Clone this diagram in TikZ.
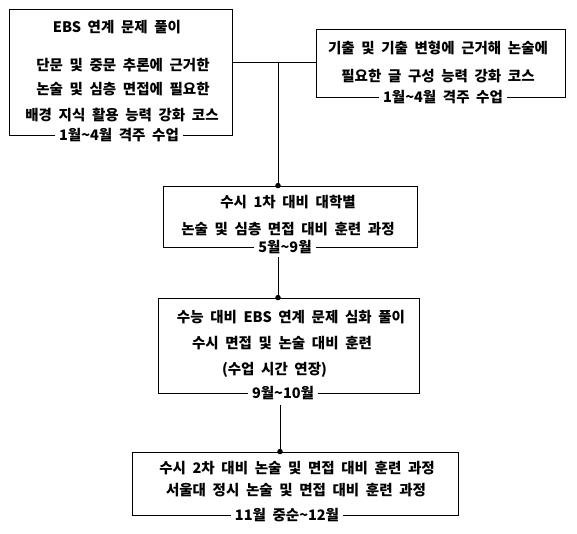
\documentclass[tikz,border=0pt]{standalone}
\usepackage{fontspec}
\setmainfont{Noto Sans CJK KR}[WordSpace=2.0]
\begin{document}
\begin{tikzpicture}[x=1pt,y=-1pt,
  box/.style={draw=black,line width=0.9pt,rectangle,inner sep=0pt},
  txt/.style={inner sep=0pt,font=\fontsize{14.5}{15}\selectfont\bfseries},
  datelbl/.style={txt,fill=white,inner xsep=4pt,inner ysep=1.5pt},
  conn/.style={draw=black,line width=0.9pt},
  dot/.style={circle,fill=black,inner sep=0pt,minimum size=5.5pt}]
\useasboundingbox (0,0) rectangle (577,534);
% boxes
\node[box,minimum width=223pt,minimum height=126pt] (b1) at (120.5,72) {};
\node[box,minimum width=249pt,minimum height=68pt] (b2) at (440.5,63) {};
\node[box,minimum width=254pt,minimum height=61pt] (b3) at (290,216.5) {};
\node[box,minimum width=261pt,minimum height=95pt] (b4) at (288.5,345.5) {};
\node[box,minimum width=326pt,minimum height=63pt] (b5) at (295,483.5) {};
% box 1 text
\node[txt] (t1a) at (117,27) {EBS 연계 문제 풀이};
\node[txt] (t1b) at (123,65) {단문 및 중문 추론에 근거한};
\node[txt] (t1c) at (123,89) {논술 및 심층 면접에 필요한};
\node[txt] (t1d) at (122,115) {배경 지식 활용 능력 강화 코스};
\node[datelbl] (d1) at (119,135) {1월\textasciitilde4월 격주 수업};
% box 2 text
\node[txt] (t2a) at (438,48) {기출 및 기출 변형에 근거해 논술에};
\node[txt] (t2b) at (438,76) {필요한 글 구성 능력 강화 코스};
\node[datelbl] (d2) at (443,97) {1월\textasciitilde4월 격주 수업};
% box 3 text
\node[txt] (t3a) at (288,202) {수시 1차 대비 대학별};
\node[txt] (t3b) at (288,229) {논술 및 심층 면접 대비 훈련 과정};
\node[datelbl] (d3) at (285,247) {5월\textasciitilde9월};
% box 4 text
\node[txt] (t4a) at (291,317) {수능 대비 EBS 연계 문제 심화 풀이};
\node[txt] (t4b) at (282,343) {수시 면접 및 논술 대비 훈련};
\node[txt] (t4c) at (274.5,370) {(수업 시간 연장)};
\node[datelbl] (d4) at (283,393) {9월\textasciitilde10월};
% box 5 text
\node[txt] (t5a) at (297,468) {수시 2차 대비 논술 및 면접 대비 훈련 과정};
\node[txt] (t5b) at (296,490) {서울대 정시 논술 및 면접 대비 훈련 과정};
\node[datelbl] (d5) at (287,515) {11월 중순\textasciitilde12월};
% connectors
\coordinate (j) at (278,62);
\draw[conn] (b1.east |- j) -- (b2.west |- j);
\draw[conn] (j) -- (b3.north -| j);
\node[dot] (p3) at (b3.north -| j) {};
\draw[conn] (j |- d3.south) ++(0,2) -- (b4.north -| j);
\node[dot] (p4) at (b4.north -| j) {};
\coordinate (k) at (280,405);
\draw[conn] (k) -- (b5.north -| k);
\node[dot] (p5) at (b5.north -| k) {};
\end{tikzpicture}
\end{document}
